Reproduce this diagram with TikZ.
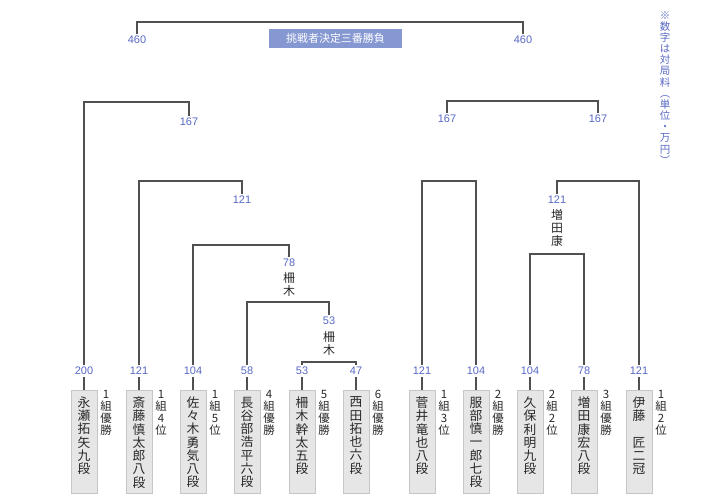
\documentclass[tikz,border=0pt]{standalone}
\usepackage{fontspec}
\newfontfamily\jpfont{Noto Sans CJK JP}
\newfontfamily\numfont{Liberation Sans}
\definecolor{linec}{RGB}{80,80,80}
\definecolor{numc}{RGB}{88,104,196}
\definecolor{boxfill}{RGB}{230,230,230}
\definecolor{boxdraw}{RGB}{198,198,198}
\definecolor{titlec}{RGB}{134,152,210}
\definecolor{namec}{RGB}{40,40,40}
\newcommand{\fstrut}[1]{\rule{0pt}{#1}}
\begin{document}
\begin{tikzpicture}[x=1bp,y=-1bp,
  conn/.style={draw=linec, line width=1.1bp},
  num/.style={font=\numfont\fontsize{11}{12}\selectfont, text=numc, inner sep=0pt, minimum height=11bp},
  namebox/.style={draw=boxdraw, fill=boxfill, minimum width=26bp, minimum height=103bp, inner sep=0pt, line width=0.8bp},
  nametext/.style={font=\jpfont\fontsize{12.8}{13.3}\selectfont, text=namec, align=center, inner sep=0pt, anchor=north},
  sidetext/.style={font=\jpfont\fontsize{11.5}{12}\selectfont, text=namec, align=center, inner sep=0pt, anchor=north},
  wintext/.style={font=\jpfont\fontsize{12}{13}\selectfont, text=namec, align=center, inner sep=0pt, anchor=north},
  titlebox/.style={fill=titlec, text=white, font=\jpfont\fontsize{11}{12}\selectfont, minimum width=133bp, minimum height=19bp, inner sep=0pt},
  notetext/.style={font=\jpfont\fontsize{10.5}{11.2}\selectfont, text=numc, align=center, inner sep=0pt, anchor=north}
]
\useasboundingbox (0,0) rectangle (720,502);

% ---- player boxes, names, side labels, numbers ----
\foreach \i/\x/\v/\nm/\sd in {
  1/84/200/{\fstrut{10bp}永\\瀬\\拓\\矢\\九\\段}/{\fstrut{9bp}1\\組\\優\\勝},
  2/139/121/{\fstrut{10bp}斎\\藤\\慎\\太\\郎\\八\\段}/{\fstrut{9bp}1\\組\\4\\位},
  3/193/104/{\fstrut{10bp}佐\\々\\木\\勇\\気\\八\\段}/{\fstrut{9bp}1\\組\\5\\位},
  4/247/58/{\fstrut{10bp}長\\谷\\部\\浩\\平\\六\\段}/{\fstrut{9bp}4\\組\\優\\勝},
  5/302/53/{\fstrut{10bp}柵\\木\\幹\\太\\五\\段}/{\fstrut{9bp}5\\組\\優\\勝},
  6/356/47/{\fstrut{10bp}西\\田\\拓\\也\\六\\段}/{\fstrut{9bp}6\\組\\優\\勝},
  7/422/121/{\fstrut{10bp}菅\\井\\竜\\也\\八\\段}/{\fstrut{9bp}1\\組\\3\\位},
  8/476/104/{\fstrut{10bp}服\\部\\慎\\一\\郎\\七\\段}/{\fstrut{9bp}2\\組\\優\\勝},
  9/530/104/{\fstrut{10bp}久\\保\\利\\明\\九\\段}/{\fstrut{9bp}2\\組\\2\\位},
  10/584/78/{\fstrut{10bp}増\\田\\康\\宏\\八\\段}/{\fstrut{9bp}3\\組\\優\\勝},
  11/639/121/{\fstrut{10bp}伊\\藤\\\phantom{匠}\\匠\\二\\冠}/{\fstrut{9bp}1\\組\\2\\位}} {
  \node[namebox] (b\i) at (\x,441.5) {};
  \node[nametext] (t\i) at ([yshift=-7bp]b\i.north) {\nm};
  \node[sidetext] (s\i) at ([xshift=22bp]b\i.north) {\sd};
  \node[num] (n\i) at (\x,371) {\v};
  \draw[conn] (b\i.north) -- (n\i.south);
}

% ---- winner / seed numbers ----
\node[num] (w53) at (329,321) {53};
\node[wintext] (m53) at ([yshift=-4.5bp]w53.south) {\fstrut{10bp}柵\\木};
\node[num] (w78) at (289,263) {78};
\node[wintext] (m78) at ([yshift=-3.5bp]w78.south) {\fstrut{10bp}柵\\木};
\node[num] (w121a) at (242,200) {121};
\node[num] (w167a) at (189,122) {167};
\node[num] (f1) at (137,40) {460};
\node[num] (f2) at (523,40) {460};
\node[num] (w167b) at (447,119) {167};
\node[num] (w167c) at (598,119) {167};
\node[num] (w121b) at (557,200) {121};
\node[wintext] (m121b) at ([yshift=-3.5bp]w121b.south) {\fstrut{10bp}増\\田\\康};

% ---- title and note ----
\node[titlebox] (title) at (335.5,38.5) {挑戦者決定三番勝負};
\node[notetext] (note) at (665,10) {\fstrut{9bp}※\\数\\字\\は\\対\\局\\料\\︵\\単\\位\\・\\万\\円\\︶};

% ---- bracket corners ----
\coordinate (k1) at (302,362);
\coordinate (k2) at (247,302);
\coordinate (k3) at (193,245);
\coordinate (k4) at (139,181);
\coordinate (k5) at (84,102);
\coordinate (k6) at (137,22);
\coordinate (k7) at (447,101);
\coordinate (k8) at (422,181);
\coordinate (k9) at (530,254);
\coordinate (k10) at (639,181);

% ---- connectors ----
\draw[conn] (n5.north) -- (k1) -| (n6.north);
\draw[conn] (n4.north) -- (k2) -| (w53.north);
\draw[conn] (n3.north) -- (k3) -| (w78.north);
\draw[conn] (n2.north) -- (k4) -| (w121a.north);
\draw[conn] (n1.north) -- (k5) -| (w167a.north);
\draw[conn] (f1.north) -- (k6) -| (f2.north);
\draw[conn] (w167b.north) -- (k7) -| (w167c.north);
\draw[conn] (n7.north) -- (k8) -| (n8.north);
\draw[conn] (n9.north) -- (k9) -| (n10.north);
\draw[conn] (n11.north) -- (k10) -| (w121b.north);
\end{tikzpicture}
\end{document}
